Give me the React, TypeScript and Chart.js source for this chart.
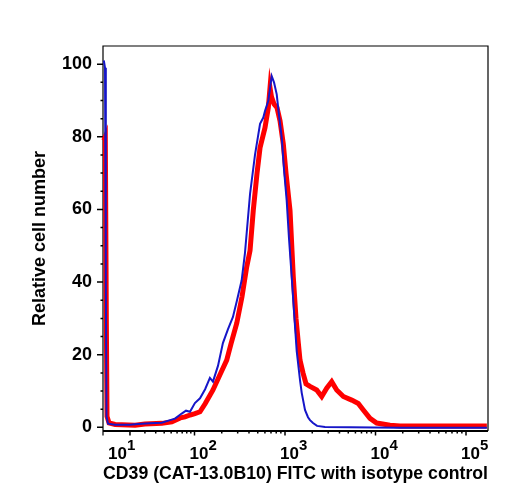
import React, { useEffect, useRef } from "react";
import { Chart, registerables } from "chart.js";

Chart.register(...registerables);

// ---- data (fluorescence intensity vs relative cell number) ----
const ISOTYPE_X = [
  -0.5, -0.16, 0.08, 0.29, 0.75, 3.2, 10, 14.9, 24.4, 36.8, 48.2, 56.3, 69, 78.3, 87.9,
  101, 115, 131, 148, 160, 182, 206, 234, 266, 295, 332, 361, 411, 466, 530, 576, 601,
  654, 713, 756, 810, 858, 920, 975, 1044, 1107, 1186, 1257, 1347, 1465, 1530, 1663,
  1795, 1889, 2039, 2258, 2767, 18655, 170000,
];
const ISOTYPE_Y = [
  101, 99, 40, 3, 1, 0.7, 0.7, 0.9, 1.1, 1.3, 2.0, 2.4, 3.8, 4.6, 4.3,
  6.7, 8, 10.5, 13.6, 12.6, 17, 23.2, 27, 30.4, 35, 40.5, 48, 64.3, 75, 83.6, 85.3, 87.1,
  89.9, 96.7, 95, 91.7, 86, 79.8, 71, 62.4, 52, 41.4, 32, 21, 13, 9.5, 4.8,
  2.8, 2, 1.2, 0.4, 0.1, -0.1, -0.1,
];

const CD39_X = [
  -0.5, -0.07, 0.23, 0.44, 1.07, 3.2, 13, 20, 37, 51, 66, 76, 88, 101, 115, 131, 160,
  191, 227, 253, 293, 335, 377, 411, 446, 491, 530, 601, 654, 683, 709, 756, 816, 881,
  958, 1026, 1136, 1235, 1323, 1403, 1465, 1581, 1706, 1889, 2240, 2544, 2889, 3281,
  3726, 4409, 5458, 6455, 7333, 8694, 10310, 14465, 18655, 170000,
];
const CD39_Y = [
  79, 80, 30, 3, 1.2, 0.8, 0.6, 0.9, 1.1, 1.5, 2.6, 2.9, 3.4, 3.8, 4.3, 6.5, 10.3,
  14.5, 18.5, 23, 28.7, 36, 44.1, 48.7, 59.7, 70, 77, 82.5, 88, 93.5, 91, 89, 88, 84.4,
  78, 70, 59.7, 41.4, 30, 23.2, 18.5, 15, 12, 11.3, 10.3, 8.5, 10.8, 12.6,
  10.3, 8.5, 7.5, 6.6, 4.8, 2.5, 1.2, 0.6, 0.4, 0.4,
];

const X_MAJOR = [10, 100, 1000, 10000, 100000];
const X_EXPONENTS = ["1", "2", "3", "4", "5"];
const X_MINOR = [
  20, 30, 40, 50, 60, 70, 80, 90,
  200, 300, 400, 500, 600, 700, 800, 900,
  2000, 3000, 4000, 5000, 6000, 7000, 8000, 9000,
  20000, 30000, 40000, 50000, 60000, 70000, 80000, 90000,
];
const Y_MAJOR = [0, 20, 40, 60, 80, 100];
const Y_MINOR = [5, 10, 15, 25, 30, 35, 45, 50, 55, 65, 70, 75, 85, 90, 95];
const X_LIMITS = [-0.73, 175000];
const Y_LIMITS = [-1, 105];

const X_TITLE = "CD39 (CAT-13.0B10) FITC with isotype control";
const Y_TITLE = "Relative cell number";
const ISOTYPE_COLOR = "#1616c8";
const CD39_COLOR = "#ff0000";
const FONT = '"Liberation Sans", Arial, Helvetica, sans-serif';

// logicle-like display transform: compressed near zero, log above 100
const LOW_SHIFT = 11.61;
const LOW_OFFSET = 0.0477;
function toAxis(v: number): number {
  return v < 100 ? Math.log10(v + LOW_SHIFT) - LOW_OFFSET : Math.log10(v);
}

const framePlugin = {
  id: "frame",
  beforeDatasetsDraw(chart: any) {
    const { ctx, chartArea: a, scales } = chart;
    const x = scales.x;
    const y = scales.y;
    ctx.save();
    ctx.strokeStyle = "#000";
    ctx.fillStyle = "#000";
    // box
    ctx.lineWidth = 1.2;
    ctx.beginPath();
    ctx.moveTo(a.left, a.bottom + 4.5);
    ctx.lineTo(a.left, a.top);
    ctx.lineTo(a.right, a.top);
    ctx.lineTo(a.right, a.bottom);
    ctx.stroke();
    ctx.lineWidth = 2;
    ctx.beginPath();
    ctx.moveTo(a.left, a.bottom);
    ctx.lineTo(a.right, a.bottom);
    ctx.stroke();
    // y ticks
    ctx.lineWidth = 1.5;
    ctx.beginPath();
    Y_MAJOR.forEach((v) => {
      const py = y.getPixelForValue(v);
      ctx.moveTo(a.left - 6, py);
      ctx.lineTo(a.left, py);
    });
    Y_MINOR.forEach((v) => {
      const py = y.getPixelForValue(v);
      ctx.moveTo(a.left - 2.5, py);
      ctx.lineTo(a.left, py);
    });
    ctx.stroke();
    // x ticks
    ctx.beginPath();
    X_MAJOR.forEach((v) => {
      const px = x.getPixelForValue(toAxis(v));
      ctx.moveTo(px, a.bottom);
      ctx.lineTo(px, a.bottom + 4.5);
    });
    X_MINOR.forEach((v) => {
      const px = x.getPixelForValue(toAxis(v));
      if (px > a.right) return;
      ctx.moveTo(px, a.bottom);
      ctx.lineTo(px, a.bottom + 2.5);
    });
    ctx.stroke();
    // x labels 10^n
    ctx.textBaseline = "alphabetic";
    ctx.textAlign = "left";
    X_MAJOR.forEach((v, i) => {
      const px = x.getPixelForValue(toAxis(v));
      const left = i === 0 ? px - 22 : px - 5;
      const baseY = a.bottom + 27.5;
      ctx.font = `bold 17px ${FONT}`;
      ctx.fillText("10", left, baseY);
      const w = ctx.measureText("10").width;
      ctx.font = `bold 15px ${FONT}`;
      ctx.fillText(X_EXPONENTS[i], left + w, baseY - 8.5);
    });
    ctx.restore();
  },
};

export default function App() {
  const canvasRef = useRef<HTMLCanvasElement | null>(null);

  useEffect(() => {
    if (!canvasRef.current) return;
    const chart = new Chart(canvasRef.current, {
      type: "line",
      data: {
        datasets: [
          {
            label: "Isotype control",
            data: ISOTYPE_X.map((v, i) => ({ x: toAxis(v), y: ISOTYPE_Y[i] })),
            borderColor: ISOTYPE_COLOR,
            borderWidth: 2,
            pointRadius: 0,
            tension: 0,
            fill: false,
            clip: 6,
          },
          {
            label: "CD39",
            data: CD39_X.map((v, i) => ({ x: toAxis(v), y: CD39_Y[i] })),
            borderColor: CD39_COLOR,
            borderWidth: 5,
            pointRadius: 0,
            tension: 0,
            fill: false,
            clip: 6,
          },
        ],
      },
      options: {
        animation: false,
        responsive: true,
        maintainAspectRatio: false,
        layout: { padding: { top: 38, right: 12, left: 0, bottom: 0 } },
        plugins: { legend: { display: false }, tooltip: { enabled: false } },
        scales: {
          x: {
            type: "linear",
            min: toAxis(X_LIMITS[0]),
            max: toAxis(X_LIMITS[1]),
            grid: { display: false, drawTicks: false },
            border: { display: false },
            ticks: { display: false },
            afterBuildTicks: (s: any) => {
              s.ticks = X_MAJOR.map((v) => ({ value: toAxis(v) }));
            },
            afterFit: (s: any) => {
              s.height = 61;
            },
            title: {
              display: true,
              text: X_TITLE,
              color: "#000",
              font: { family: FONT, size: 18, weight: "bold" },
              padding: { top: 0, bottom: 7 },
            },
          },
          y: {
            type: "linear",
            min: Y_LIMITS[0],
            max: Y_LIMITS[1],
            grid: { display: false, drawTicks: false },
            border: { display: false },
            ticks: {
              color: "#000",
              font: { family: FONT, size: 18, weight: "bold" },
              padding: 11,
            },
            afterBuildTicks: (s: any) => {
              s.ticks = Y_MAJOR.map((v) => ({ value: v }));
            },
            afterFit: (s: any) => {
              s.width = 95;
            },
            title: {
              display: true,
              text: Y_TITLE,
              color: "#000",
              font: { family: FONT, size: 18, weight: "bold" },
              padding: { top: 21, bottom: 0 },
            },
          },
        },
      },
      plugins: [framePlugin],
    } as any);
    return () => chart.destroy();
  }, []);

  return (
    <div style={{ width: 492, height: 484, position: "relative" }}>
      <canvas ref={canvasRef} />
    </div>
  );
}
